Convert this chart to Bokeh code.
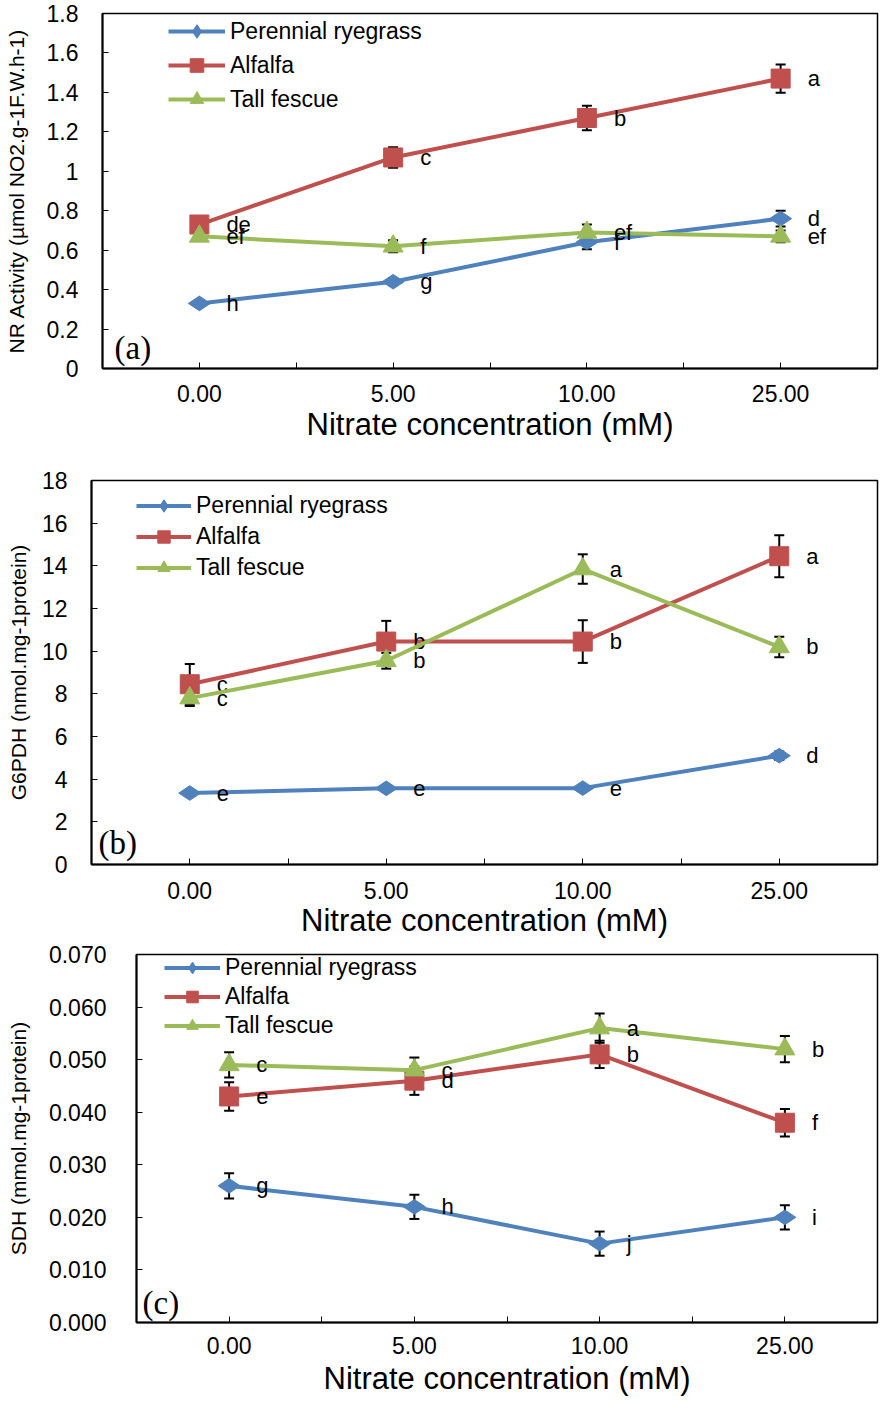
import numpy as np
from bokeh.plotting import figure
from bokeh.models import (ColumnDataSource, Whisker, TeeHead, Legend, LegendItem,
                          FixedTicker, Label, Range1d)
from bokeh.layouts import column, row
from bokeh.embed import file_html
from bokeh.resources import INLINE
from bokeh.core.properties import value

# ---------------- data ----------------
concentrations = ["0.00", "5.00", "10.00", "25.00"]
species = ["Perennial ryegrass", "Alfalfa", "Tall fescue"]

# (a) NR activity
nr_ryegrass = [0.33, 0.44, 0.64, 0.76]
nr_alfalfa = [0.73, 1.07, 1.27, 1.47]
nr_fescue = [0.67, 0.62, 0.69, 0.67]
nr_ryegrass_err = [0.01, 0.015, 0.035, 0.04]
nr_alfalfa_err = [0.02, 0.052, 0.062, 0.072]
nr_fescue_err = [0.015, 0.03, 0.04, 0.03]
nr_ryegrass_letters = ["h", "g", "f", "d"]
nr_alfalfa_letters = ["de", "c", "b", "a"]
nr_fescue_letters = ["ef", "f", "ef", "ef"]
nr_ticks = [0, 0.2, 0.4, 0.6, 0.8, 1, 1.2, 1.4, 1.6, 1.8]
nr_tick_labels = ["0", "0.2", "0.4", "0.6", "0.8", "1", "1.2", "1.4", "1.6", "1.8"]

# (b) G6PDH
g6_ryegrass = [3.35, 3.57, 3.58, 5.1]
g6_alfalfa = [8.45, 10.45, 10.45, 14.45]
g6_fescue = [7.8, 9.55, 13.85, 10.2]
g6_ryegrass_err = [0.1, 0.1, 0.1, 0.2]
g6_alfalfa_err = [0.95, 0.97, 1.0, 0.98]
g6_fescue_err = [0.37, 0.37, 0.69, 0.48]
g6_ryegrass_letters = ["e", "e", "e", "d"]
g6_alfalfa_letters = ["c", "b", "b", "a"]
g6_fescue_letters = ["c", "b", "a", "b"]
g6_ticks = [0, 2, 4, 6, 8, 10, 12, 14, 16, 18]
g6_tick_labels = ["0", "2", "4", "6", "8", "10", "12", "14", "16", "18"]

# (c) SDH
sdh_ryegrass = [0.026, 0.022, 0.015, 0.020]
sdh_alfalfa = [0.043, 0.046, 0.051, 0.038]
sdh_fescue = [0.049, 0.048, 0.056, 0.052]
sdh_ryegrass_err = [0.0024, 0.0023, 0.0023, 0.0023]
sdh_alfalfa_err = [0.0027, 0.0027, 0.0026, 0.0026]
sdh_fescue_err = [0.0024, 0.0024, 0.0028, 0.0025]
sdh_ryegrass_letters = ["g", "h", "j", "i"]
sdh_alfalfa_letters = ["e", "d", "b", "f"]
sdh_fescue_letters = ["c", "c", "a", "b"]
sdh_ticks = [0, 0.01, 0.02, 0.03, 0.04, 0.05, 0.06, 0.07]
sdh_tick_labels = ["0.000", "0.010", "0.020", "0.030", "0.040", "0.050", "0.060", "0.070"]

# ---------------- style ----------------
FONT = "Liberation Sans"
SERIF = "Liberation Serif"
COLORS = ["#4F81BD", "#C0504D", "#9BBB59"]
MARKERS = ["diamond", "square", "triangle"]
MSIZES = [22, 19, 20]
MANGLES = [np.pi / 2, 0, 0]


def make_panel(vals, errs, letters, ylabel, ymax, yticks, ytick_labels, tag, cfg):
    xs = list(range(len(concentrations)))
    p = figure(width=880, height=cfg["height"], output_backend="svg", toolbar_location=None,
               x_range=Range1d(-0.5, len(concentrations) - 0.5), y_range=Range1d(0, ymax),
               min_border_left=cfg["left"], min_border_right=3,
               min_border_top=cfg["top"], min_border_bottom=cfg["bottom"])
    p.background_fill_color = "white"
    p.border_fill_color = "white"
    p.grid.visible = False
    p.outline_line_color = "black"
    p.outline_line_width = 1.5

    items = []
    for i, name in enumerate(species):
        lo = [v - e for v, e in zip(vals[i], errs[i])]
        hi = [v + e for v, e in zip(vals[i], errs[i])]
        src = ColumnDataSource(dict(x=xs, y=vals[i], lo=lo, hi=hi, lab=letters[i]))
        lr = p.line("x", "y", source=src, line_color=COLORS[i], line_width=4)
        sr = p.scatter("x", "y", source=src, marker=MARKERS[i], size=MSIZES[i],
                       angle=MANGLES[i], fill_color=COLORS[i], line_color=COLORS[i])
        w = Whisker(source=src, base="x", upper="hi", lower="lo", dimension="height",
                    line_color="black", line_width=2,
                    upper_head=TeeHead(size=10, line_color="black", line_width=2),
                    lower_head=TeeHead(size=10, line_color="black", line_width=2))
        p.add_layout(w)
        p.text("x", "y", text="lab", source=src, x_offset=27, text_baseline="middle",
               text_align="left", text_font=value(FONT), text_font_size="22px",
               text_color="black")
        items.append(LegendItem(label=name, renderers=[lr, sr]))

    leg = Legend(items=items, location=cfg["legend_loc"], glyph_width=cfg["gw"],
                 glyph_height=cfg["pitch"], label_height=cfg["pitch"], label_standoff=5,
                 spacing=0, padding=0, margin=0,
                 border_line_color=None, background_fill_alpha=0,
                 label_text_font=FONT, label_text_font_size="23px",
                 label_text_color="black")
    p.add_layout(leg)

    # x axis
    xa = p.xaxis[0]
    xa.ticker = FixedTicker(ticks=xs, minor_ticks=[x + 0.5 for x in xs[:-1]])
    xa.major_label_overrides = {x: lab for x, lab in zip(xs, concentrations)}
    xa.axis_label = "Nitrate concentration (mM)"
    xa.axis_label_text_font = FONT
    xa.axis_label_text_font_size = "31px"
    xa.axis_label_text_font_style = "normal"
    xa.axis_label_text_color = "black"
    xa.axis_label_standoff = cfg["xtitle_standoff"]
    xa.major_label_standoff = cfg["xlab_standoff"]
    xa.major_label_text_font = FONT
    xa.major_label_text_font_size = "23px"
    xa.major_label_text_color = "black"
    xa.axis_line_color = "black"
    xa.axis_line_width = 2
    xa.major_tick_in = 6
    xa.major_tick_out = 0
    xa.minor_tick_in = 6
    xa.minor_tick_out = 0
    xa.major_tick_line_color = "black"
    xa.minor_tick_line_color = "black"

    # y axis
    ya = p.yaxis[0]
    ya.ticker = FixedTicker(ticks=yticks)
    ya.major_label_overrides = {t: s for t, s in zip(yticks, ytick_labels)}
    ya.axis_label = ylabel
    ya.axis_label_text_font = FONT
    ya.axis_label_text_font_size = "21px"
    ya.axis_label_text_font_style = "normal"
    ya.axis_label_text_color = "black"
    ya.axis_label_standoff = cfg["ytitle_standoff"]
    ya.major_label_standoff = cfg["ylab_standoff"]
    ya.major_label_text_font = FONT
    ya.major_label_text_font_size = "23px"
    ya.major_label_text_color = "black"
    ya.axis_line_color = "black"
    ya.axis_line_width = 2
    ya.major_tick_in = 6
    ya.major_tick_out = 0
    ya.minor_tick_line_color = None
    ya.major_tick_line_color = "black"

    p.add_layout(Label(x=-0.5, y=0, x_offset=cfg["tag_dx"], y_offset=cfg["tag_dy"],
                       text=tag, text_baseline="middle", text_align="left",
                       text_font=SERIF, text_font_size="33px", text_color="black"))
    return p


pa = make_panel([nr_ryegrass, nr_alfalfa, nr_fescue],
                [nr_ryegrass_err, nr_alfalfa_err, nr_fescue_err],
                [nr_ryegrass_letters, nr_alfalfa_letters, nr_fescue_letters],
                "NR Activity (µmol NO2.g-1F.W.h-1)", 1.8, nr_ticks, nr_tick_labels, "(a)",
                dict(height=446, left=102, top=13, bottom=78, ylab_standoff=24, ytitle_standoff=16,
                     xlab_standoff=16, xtitle_standoff=2, legend_loc=(66, 355 - 18 - 3 * 34 + 17),
                     pitch=34, gw=57, tag_dx=12, tag_dy=21))

pb = make_panel([g6_ryegrass, g6_alfalfa, g6_fescue],
                [g6_ryegrass_err, g6_alfalfa_err, g6_fescue_err],
                [g6_ryegrass_letters, g6_alfalfa_letters, g6_fescue_letters],
                "G6PDH (nmol.mg-1protein)", 18, g6_ticks, g6_tick_labels, "(b)",
                dict(height=496, left=91, top=34, bottom=78, ylab_standoff=24, ytitle_standoff=9,
                     xlab_standoff=17, xtitle_standoff=1, legend_loc=(45, 384 - 25 - 3 * 31 + 15),
                     pitch=31, gw=55, tag_dx=7, tag_dy=22))

pc = make_panel([sdh_ryegrass, sdh_alfalfa, sdh_fescue],
                [sdh_ryegrass_err, sdh_alfalfa_err, sdh_fescue_err],
                [sdh_ryegrass_letters, sdh_alfalfa_letters, sdh_fescue_letters],
                "SDH (mmol.mg-1protein)", 0.07, sdh_ticks, sdh_tick_labels, "(c)",
                dict(height=457, left=136, top=12, bottom=77, ylab_standoff=30, ytitle_standoff=16,
                     xlab_standoff=14, xtitle_standoff=4, legend_loc=(28, 368 - 13 - 3 * 29 + 14),
                     pitch=29, gw=56, tag_dx=6, tag_dy=20))

layout = column(row(pa), row(pb), row(pc), spacing=0)
open("out.html", "w").write(file_html(layout, INLINE))
